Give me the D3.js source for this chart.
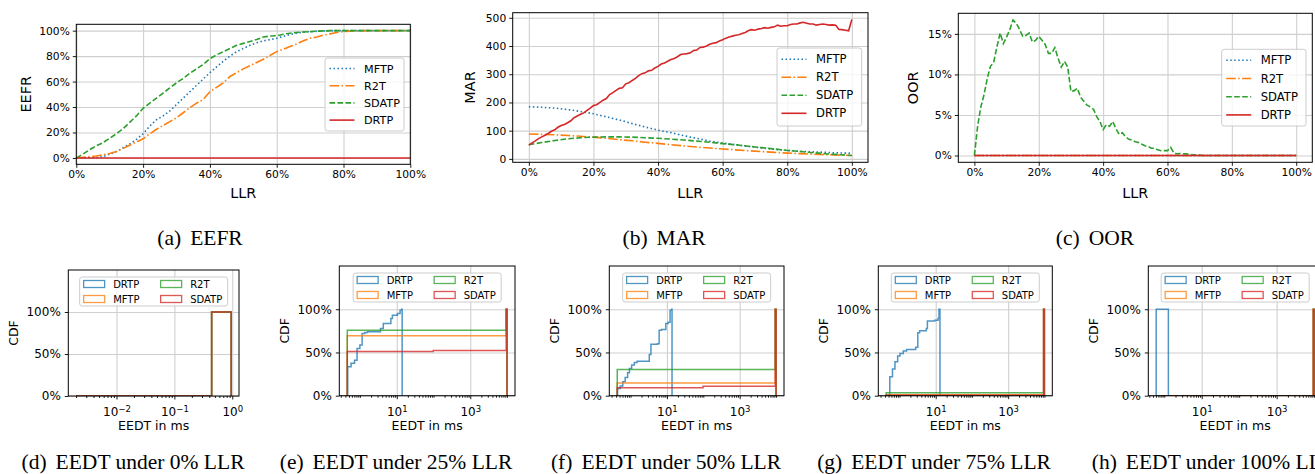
<!DOCTYPE html>
<html>
<head>
<meta charset="utf-8">
<script src="https://cdnjs.cloudflare.com/ajax/libs/d3/7.8.5/d3.min.js"></script>
<style>
  body { margin: 0; background: #fff; }
  svg { display: block; font-family: "DejaVu Sans", sans-serif; }
</style>
</head>
<body>
<svg id="fig" width="1315" height="474"></svg>
<script>
// ---------- data ----------
// LLR grids (fraction)
const LLR1 = d3.range(0, 101, 1).map(v => v / 100);
const LLR2 = d3.range(0, 101, 2).map(v => v / 100);
const LLR4 = d3.range(0, 101, 4).map(v => v / 100);

// (a) EEFR in %, on LLR2
const eefrMFTP = [0,0,0.1,0.3,1,3,5,8,11,14.5,19,25,30,33,37,42,47,52,57,62,67,71.5,76,80,83.5,86,88.5,90.5,92,93,94,95.5,97,98,98.8,99.2,99.5,99.8,100,100,100,100,100,100,100,100,100,100,100,100,100];
const eefrR2T = [0,0.5,1,1.5,2.5,3.5,5,7.5,10,12.5,15,19,22.5,25.5,28.5,31.5,35.5,39.5,43,46,52,55.5,59,64,67,70,72.5,75,77.5,80.5,83.5,85.5,87.5,89.5,92,94,95,96.5,97.5,98.5,99.3,99.6,99.8,100,100,100,100,100,100,100,100];
const eefrSDATP = [0,3,6.5,9.5,12,15.5,19,23,28,33,39,43,47,51,55,59,62.5,66.5,70,73.5,78,81,83.5,86,88.5,90,91.5,93,95,95.8,96,97.2,98,98.6,99,99.2,99.6,99.8,100,100,100,100,100,100,100,100,100,100,100,100,100];
const eefrDRTP = [0,0,0,0,0,0,0,0,0,0,0,0,0,0,0,0,0,0,0,0,0,0,0,0,0,0,0,0,0,0,0,0,0,0,0,0,0,0,0,0,0,0,0,0,0,0,0,0,0,0,0];

// (b) MAR, smooth series on LLR4, DRTP on LLR1
const marMFTP = [185,183,180,175,168,160,149,138,125,113,102,93,82,73,63,56,50,44,39,34,30,27,25,23,21,20];
const marR2T = [88,87,85.5,83,80,77,73,68,64,59,55,50,46,42,38.5,35,32,29,26,23,20.5,18.5,16.5,15,13.5,12];
const marSDATP = [50,58,65,71,75,77,78,78,77,75,73,70,67,63,59,54,50,45,40,35,30,26,22,18,15,12];
const marDRTP = [49,57,64,72,78,84,90,98,103,112,
  118,122,128,135,146,152,158,163,172,180,
  189,192,200,208,214,228,235,243,250,252,
  266,270,278,285,295,302,305,312,314,322,
  328,336,340,346,352,356,362,370,372,373,
  376,384,386,395,396,400,406,410,412,418,
  422,428,432,435,438,440,444,448,455,458,
  456,460,462,465,463,466,468,474,470,472,
  472,476,478,478,482,484,481,478,478,474,
  476,478,476,474,475,474,459,458,456,454,494];

// (c) OOR in %, zero series on LLR4, SDATP on LLR1
const oorMFTP = [0,0,0,0,0,0,0,0,0,0,0,0,0,0,0,0,0,0,0,0,0,0,0,0,0,0];
const oorR2T = [0,0,0,0,0,0,0,0,0,0,0,0,0,0,0,0,0,0,0,0,0,0,0,0,0,0];
const oorDRTP = [0,0,0,0,0,0,0,0,0,0,0,0,0,0,0,0,0,0,0,0,0,0,0,0,0,0];
const oorSDATP = [0,3.6,6,7.5,9.5,11,11.5,13.4,15.1,13.8,
  14.6,15.5,16.7,16.3,15.6,14.7,14.8,15.1,14,14.2,
  14.7,14.2,13.7,12.6,12.6,13.3,12,10.9,11.6,10.9,
  7.9,8,8.3,7.2,6.7,6.2,6,5.7,4.8,4.2,
  3.2,3.8,3.6,4.2,3.3,2.6,2.8,2.3,2,1.9,
  1.7,1.6,1.4,1.2,1.1,0.9,0.9,0.7,0.6,0.6,
  0.6,1.0,0.3,0.2,0.25,0.2,0.2,0.1,0.1,0.05,
  0.05,0,0,0,0,0,0,0,0,0,
  0,0,0,0,0,0,0,0,0,0,
  0,0,0,0,0,0,0,0,0,0,0];

// (d)-(h) EEDT CDF steps: [ms, cdf]; last pair is where the step outline drops back to 0
const cdf0DRTP = [[0.002, 0], [0.44, 1], [0.96, 0]];
const cdf0MFTP = [[0.002, 0], [0.44, 1], [0.96, 0]];
const cdf0R2T = [[0.002, 0], [0.44, 1], [0.96, 0]];
const cdf0SDATP = [[0.002, 0], [0.44, 1], [0.96, 0]];

const cdf25DRTP = [[0.46,0.334],[0.57,0.374],[0.71,0.41],[0.83,0.547],[0.99,0.585],[1.14,0.72],[1.35,0.73],[1.6,0.74],[3.6,0.777],[4.3,0.835],[6.9,0.893],[7.6,0.93],[10.4,0.95],[12.3,0.989],[13.6,1],[14,0]];
const cdf25MFTP = [[0.45,0.692],[9500,1],[10000,0]];
const cdf25R2T = [[0.45,0.758],[9500,1],[10000,0]];
const cdf25SDATP = [[0.45,0.512],[98,0.522],[9500,1],[10000,0]];

const cdf50DRTP = [[0.44,0.084],[0.52,0.112],[0.61,0.16],[0.71,0.21],[0.83,0.265],[0.93,0.316],[1.07,0.354],[1.27,0.385],[1.51,0.397],[3.27,0.477],[3.63,0.596],[5.5,0.60],[6.1,0.758],[7.1,0.765],[9.3,0.835],[10.8,0.85],[12.2,0.988],[13.5,1],[13.8,0]];
const cdf50MFTP = [[0.43,0.146],[9500,1],[10000,0]];
const cdf50R2T = [[0.43,0.304],[9500,1],[10000,0]];
const cdf50SDATP = [[0.43,0.092],[98,0.108],[9500,1],[10000,0]];

const cdf75DRTP = [[0.54,0.219],[0.64,0.308],[0.75,0.392],[0.89,0.46],[1.03,0.489],[1.27,0.516],[1.57,0.535],[2.8,0.56],[3.2,0.727],[3.6,0.75],[5.5,0.777],[5.9,0.865],[9.4,0.872],[11.6,0.893],[12.3,1],[13.1,0]];
const cdf75MFTP = [[0.43,0.012],[9500,1],[10000,0]];
const cdf75R2T = [[0.43,0.035],[9500,1],[10000,0]];
const cdf75SDATP = [[0.43,0.006],[9500,1],[10000,0]];

const cdf100DRTP = [[0.61,1],[1.29,0]];
const cdf100MFTP = [[0.61,0],[9500,1],[10000,0]];
const cdf100R2T = [[0.61,0],[9500,1],[10000,0]];
const cdf100SDATP = [[0.61,0],[9500,1],[10000,0]];

const pctTicks = [0, 0.2, 0.4, 0.6, 0.8, 1];

// ---------- drawing ----------
const svg = d3.select("#fig");
// line plots keep the protocol colours of the top row, the histograms use the default cycle order
const COLORS = { MFTP: "#1f77b4", R2T: "#ff7f0e", SDATP: "#2ca02c", DRTP: "#d62728" };
const CDF_COLORS = { DRTP: "#1f77b4", MFTP: "#ff7f0e", R2T: "#2ca02c", SDATP: "#d62728" };
const DASH = { MFTP: "1.5,2.5", R2T: "9.6,2.4,1.5,2.4", SDATP: "5.6,2.4", DRTP: null };
const defs = svg.append("defs");

function pad(lo, hi) { const m = (hi - lo) * 0.05; return [lo - m, hi + m]; }

function styleAxis(g, fs) {
  g.select(".domain").remove();
  g.selectAll(".tick line").attr("stroke", "#000").attr("stroke-width", 0.9);
  g.selectAll(".tick text").attr("fill", "#000").attr("font-size", fs)
    .attr("font-family", "DejaVu Sans");
}

function grid(g, x, y, box, xTicks, yTicks) {
  const w = box.r - box.l, h = box.b - box.t;
  g.append("g").attr("transform", `translate(0,${box.b})`)
    .call(d3.axisBottom(x).tickValues(xTicks).tickSize(-h).tickFormat(""))
    .call(s => { s.select(".domain").remove(); s.selectAll("line").attr("stroke", "#cfcfcf").attr("stroke-width", 1.1); });
  g.append("g").attr("transform", `translate(${box.l},0)`)
    .call(d3.axisLeft(y).tickValues(yTicks).tickSize(-w).tickFormat(""))
    .call(s => { s.select(".domain").remove(); s.selectAll("line").attr("stroke", "#cfcfcf").attr("stroke-width", 1.1); });
}

function clipFor(id, box) {
  defs.append("clipPath").attr("id", id).append("rect")
    .attr("x", box.l).attr("y", box.t).attr("width", box.r - box.l).attr("height", box.b - box.t);
  return `url(#${id})`;
}

function frame(g, box) {
  g.append("rect").attr("x", box.l).attr("y", box.t)
    .attr("width", box.r - box.l).attr("height", box.b - box.t)
    .attr("fill", "none").attr("stroke", "#000").attr("stroke-width", 1);
}

function caption(tag, text, cx, cy) {
  const t = svg.append("text").attr("x", cx).attr("y", cy).attr("text-anchor", "middle")
    .attr("font-family", "Liberation Serif, serif").attr("font-size", 21.5).attr("fill", "#000");
  t.append("tspan").text(tag);
  t.append("tspan").attr("dx", 9).text(text);
}

function linePanel(p) {
  const box = p.box;
  const x = d3.scaleLinear().domain(p.xDomain).range([box.l, box.r]);
  const y = d3.scaleLinear().domain(p.yDomain).range([box.b, box.t]);
  const g = svg.append("g");
  grid(g, x, y, box, pctTicks, p.yTicks);

  const line = d3.line().x(d => x(d[0])).y(d => y(d[1]));
  g.append("g").attr("clip-path", clipFor(p.id, box))
    .selectAll("path").data(p.series).join("path")
    .attr("d", s => line(d3.zip(s.x, s.y)))
    .attr("fill", "none")
    .attr("stroke", s => COLORS[s.name])
    .attr("stroke-width", 1.6)
    .attr("stroke-dasharray", s => DASH[s.name]);

  g.append("g").attr("transform", `translate(0,${box.b})`)
    .call(d3.axisBottom(x).tickValues(pctTicks).tickFormat(d => Math.round(d * 100) + "%").tickSize(3.5).tickPadding(3))
    .call(styleAxis, 10.7);
  g.append("g").attr("transform", `translate(${box.l},0)`)
    .call(d3.axisLeft(y).tickValues(p.yTicks).tickFormat(p.yFmt).tickSize(3.5).tickPadding(3))
    .call(styleAxis, 10.7);
  frame(g, box);

  g.append("text").attr("x", (box.l + box.r) / 2).attr("y", 198).attr("text-anchor", "middle")
    .attr("font-size", 14.4).text("LLR");
  g.append("text").attr("transform", `translate(${p.yLabelX},${(box.t + box.b) / 2}) rotate(-90)`)
    .attr("text-anchor", "middle").attr("dy", "0.35em").attr("font-size", 14.4).text(p.yLabel);

  // legend
  const lg = p.legend;
  const L = g.append("g");
  L.append("rect").attr("x", lg.x).attr("y", lg.y).attr("width", lg.w).attr("height", lg.h)
    .attr("rx", 2.5).attr("fill", "#fff").attr("fill-opacity", 0.8).attr("stroke", "#cccccc");
  p.series.forEach((s, i) => {
    const yy = lg.y + lg.first + i * lg.step;
    L.append("line").attr("x1", lg.x + 4.5).attr("x2", lg.x + 29.5).attr("y1", yy).attr("y2", yy)
      .attr("stroke", COLORS[s.name]).attr("stroke-width", 1.6).attr("stroke-dasharray", DASH[s.name]);
    L.append("text").attr("x", lg.x + 39).attr("y", yy).attr("dy", "0.36em")
      .attr("font-size", lg.fs).text(s.name);
  });
  caption(p.tag, p.caption, p.capX, 245);
}

function stepPoints(steps) {
  const pts = [[steps[0][0], 0]];
  let prev = 0;
  steps.forEach(([xv, yv]) => { pts.push([xv, prev]); pts.push([xv, yv]); prev = yv; });
  return pts;
}

const SUP = { "-3": "\u22123", "-2": "\u22122", "-1": "\u22121", "0": "0", "1": "1", "2": "2", "3": "3", "4": "4" };

function cdfPanel(p) {
  const box = p.box;
  const allX = p.series.flatMap(s => s.steps.map(d => d[0]));
  const ld = pad(Math.log10(d3.min(allX)), Math.log10(d3.max(allX)));
  const x = d3.scaleLog().domain([10 ** ld[0], 10 ** ld[1]]).range([box.l, box.r]);
  const y = d3.scaleLinear().domain([0, 1.5]).range([box.b, box.t]);
  const g = svg.append("g");
  grid(g, x, y, box, p.xMajor, [0, 0.5, 1]);

  const line = d3.line().x(d => x(d[0])).y(d => y(d[1]));
  g.append("g").attr("clip-path", clipFor(p.id, box))
    .selectAll("path").data(p.series).join("path")
    .attr("d", s => line(stepPoints(s.steps)))
    .attr("fill", "none")
    .attr("stroke", s => CDF_COLORS[s.name])
    .attr("stroke-opacity", 0.78)
    .attr("stroke-width", 1.5);

  // minor ticks
  const [d0, d1] = x.domain();
  const minor = [];
  for (let e = Math.floor(Math.log10(d0)); e <= Math.ceil(Math.log10(d1)); e++) {
    for (let k = 1; k <= 9; k++) {
      const v = k * 10 ** e;
      if (v >= d0 && v <= d1 && !p.xMajor.some(m => Math.abs(m - v) / v < 1e-6)) minor.push(v);
    }
  }
  g.append("g").attr("transform", `translate(0,${box.b})`)
    .call(d3.axisBottom(x).tickValues(minor).tickFormat("").tickSize(2))
    .call(styleAxis, 12);
  g.append("g").attr("transform", `translate(0,${box.b})`)
    .call(d3.axisBottom(x).tickValues(p.xMajor).tickFormat("").tickSize(3.5).tickPadding(4))
    .call(styleAxis, 12)
    .call(s => s.selectAll(".tick text").each(function (d) {
      const t = d3.select(this).attr("dy", "1.05em");
      t.append("tspan").text("10");
      t.append("tspan").attr("dy", "-0.45em").attr("font-size", 8.5).text(SUP[String(Math.round(Math.log10(d)))]);
    }));
  g.append("g").attr("transform", `translate(${box.l},0)`)
    .call(d3.axisLeft(y).tickValues([0, 0.5, 1]).tickFormat(d => Math.round(d * 100) + "%").tickSize(3.5).tickPadding(4))
    .call(styleAxis, 12);
  frame(g, box);

  g.append("text").attr("x", (box.l + box.r) / 2).attr("y", 429.5).attr("text-anchor", "middle")
    .attr("font-size", 12.5).text("EEDT in ms");
  g.append("text").attr("transform", `translate(${box.l - 55},${(box.t + box.b) / 2}) rotate(-90)`)
    .attr("text-anchor", "middle").attr("dy", "0.35em").attr("font-size", 12.5).text("CDF");

  // legend, upper center, two columns
  const lw = 148, lh = 29;
  const lx = (box.l + box.r) / 2 - lw / 2, ly = box.t + 7;
  const L = g.append("g");
  L.append("rect").attr("x", lx).attr("y", ly).attr("width", lw).attr("height", lh)
    .attr("rx", 2.5).attr("fill", "#fff").attr("fill-opacity", 0.8).attr("stroke", "#cccccc");
  p.series.forEach((s, i) => {
    const col = Math.floor(i / 2), row = i % 2;
    const px = lx + 4 + col * 77, py = ly + 7 + row * 15;
    L.append("rect").attr("x", px).attr("y", py - 3.5).attr("width", 21).attr("height", 7)
      .attr("fill", "none").attr("stroke", CDF_COLORS[s.name]).attr("stroke-opacity", 0.78).attr("stroke-width", 1.3);
    L.append("text").attr("x", px + 29.5).attr("y", py).attr("dy", "0.36em")
      .attr("font-size", 10).text(s.name);
  });
  caption(p.tag, p.caption, p.capX, 468.5);
}

// ---------- panels ----------
linePanel({
  id: "ca", box: { l: 76.3, r: 410.3, t: 24.3, b: 164.3 },
  xDomain: [0, 1], yDomain: [-5, 105], yTicks: [0, 20, 40, 60, 80, 100], yFmt: d => d + "%",
  yLabel: "EEFR", yLabelX: 26,
  series: [
    { name: "MFTP", x: LLR2, y: eefrMFTP },
    { name: "R2T", x: LLR2, y: eefrR2T },
    { name: "SDATP", x: LLR2, y: eefrSDATP },
    { name: "DRTP", x: LLR2, y: eefrDRTP }
  ],
  legend: { x: 325, y: 58, w: 79, h: 73, first: 10.5, step: 17.2, fs: 11.2 },
  tag: "(a)", caption: "EEFR", capX: 200
});

linePanel({
  id: "cb", box: { l: 512.7, r: 868, t: 12.7, b: 162.3 },
  xDomain: [-0.05, 1.05],
  yDomain: pad(d3.min([...marMFTP, ...marR2T, ...marSDATP, ...marDRTP]), d3.max([...marMFTP, ...marR2T, ...marSDATP, ...marDRTP])),
  yTicks: [0, 100, 200, 300, 400, 500], yFmt: d => d,
  yLabel: "MAR", yLabelX: 470,
  series: [
    { name: "MFTP", x: LLR4, y: marMFTP },
    { name: "R2T", x: LLR4, y: marR2T },
    { name: "SDATP", x: LLR4, y: marSDATP },
    { name: "DRTP", x: LLR1, y: marDRTP }
  ],
  legend: { x: 777, y: 48, w: 84.7, h: 78, first: 11.3, step: 18, fs: 11.6 },
  tag: "(b)", caption: "MAR", capX: 664
});

linePanel({
  id: "cc", box: { l: 958.3, r: 1312.3, t: 13.3, b: 162.3 },
  xDomain: [-0.05, 1.05],
  yDomain: pad(0, d3.max(oorSDATP)),
  yTicks: [0, 5, 10, 15], yFmt: d => d + "%",
  yLabel: "OOR", yLabelX: 913,
  series: [
    { name: "MFTP", x: LLR4, y: oorMFTP },
    { name: "R2T", x: LLR4, y: oorR2T },
    { name: "SDATP", x: LLR1, y: oorSDATP },
    { name: "DRTP", x: LLR4, y: oorDRTP }
  ],
  legend: { x: 1221.7, y: 49.3, w: 84.3, h: 76.7, first: 11, step: 18.2, fs: 11.6 },
  tag: "(c)", caption: "OOR", capX: 1095
});

const bottom = [
  { id: "cd", box: { l: 68.3, r: 239, t: 270, b: 396 }, xMajor: [0.01, 0.1, 1],
    s: [cdf0DRTP, cdf0MFTP, cdf0R2T, cdf0SDATP], tag: "(d)", caption: "EEDT under 0% LLR", capX: 133 },
  { id: "ce", box: { l: 339.3, r: 515, t: 266, b: 395.7 }, xMajor: [10, 1000],
    s: [cdf25DRTP, cdf25MFTP, cdf25R2T, cdf25SDATP], tag: "(e)", caption: "EEDT under 25% LLR", capX: 396 },
  { id: "cf", box: { l: 609.3, r: 784, t: 266, b: 395.7 }, xMajor: [10, 1000],
    s: [cdf50DRTP, cdf50MFTP, cdf50R2T, cdf50SDATP], tag: "(f)", caption: "EEDT under 50% LLR", capX: 666 },
  { id: "cg", box: { l: 878.3, r: 1052.3, t: 266, b: 395.7 }, xMajor: [10, 1000],
    s: [cdf75DRTP, cdf75MFTP, cdf75R2T, cdf75SDATP], tag: "(g)", caption: "EEDT under 75% LLR", capX: 934 },
  { id: "ch", box: { l: 1148.3, r: 1322, t: 266, b: 395.7 }, xMajor: [10, 1000],
    s: [cdf100DRTP, cdf100MFTP, cdf100R2T, cdf100SDATP], tag: "(h)", caption: "EEDT under 100% LLR", capX: 1214 }
];
const cdfNames = ["DRTP", "MFTP", "R2T", "SDATP"];
bottom.forEach(b => cdfPanel({
  id: b.id, box: b.box, xMajor: b.xMajor, tag: b.tag, caption: b.caption, capX: b.capX,
  series: b.s.map((steps, i) => ({ name: cdfNames[i], steps }))
}));
</script>
</body>
</html>
